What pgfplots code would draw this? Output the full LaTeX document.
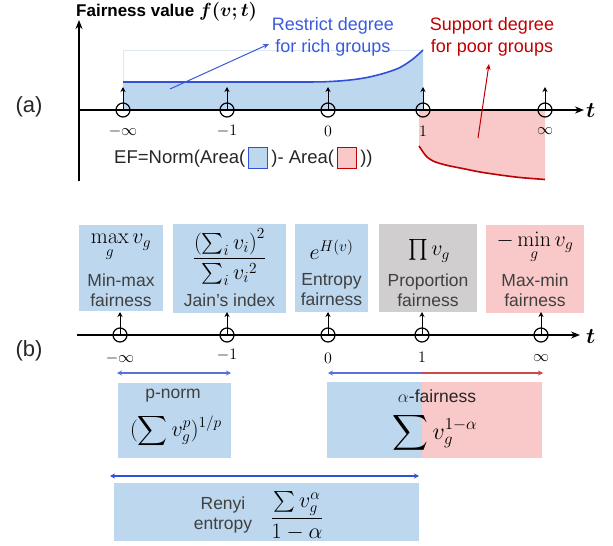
\IfFileExists{fix-cm.sty}{\RequirePackage{fix-cm}}{}
\documentclass[border=0pt]{standalone}
\usepackage{amsmath,bm}
\usepackage[no-math]{fontspec}
\setmainfont{Liberation Sans}
\usepackage{pgfplots}
\pgfplotsset{compat=1.18}
\usetikzlibrary{arrows.meta}
\definecolor{bfill}{HTML}{BDD7EE}
\definecolor{rfill}{HTML}{F9C8C8}
\definecolor{gfill}{HTML}{D0CECE}
\definecolor{bline}{HTML}{3050D8}
\definecolor{btext}{HTML}{3A5BDC}
\definecolor{rline}{HTML}{C00000}
\definecolor{tgray}{HTML}{404040}
\definecolor{barrow}{HTML}{5A70DC}
\definecolor{rarrow}{HTML}{C84A4A}
\definecolor{faint}{HTML}{DCE8F8}
\newcommand{\bx}{\fontsize{17.5}{20}\selectfont}
\newcommand{\mx}{\fontsize{22}{25}\selectfont}
\newcommand{\lb}{\fontsize{16}{18}\selectfont}
\begin{document}
\begin{tikzpicture}
\begin{axis}[at={(0,0)}, anchor=south west, scale only axis, width=613pt, height=546pt,
  xmin=0, xmax=613, ymin=0, ymax=546, y dir=reverse, hide axis, clip=false]
% ---------------- panel (a) ----------------
\addplot[fill=bfill, draw=none] coordinates {(123,110) (123,82) (300,82) (330,81.5) (350,80) (367,77.5) (385,73) (400,67.5) (413,59) (423,50) (423,110)} --cycle;
\draw[faint, line width=0.6pt] (123,82) -- (123,50) -- (423,50);
\addplot[bline, line width=1.6pt, smooth] coordinates {(123,82) (300,82) (330,81.5) (350,80) (367,77.5) (385,73) (400,67.5) (413,59) (423,50)};
\addplot[fill=rfill, draw=none] coordinates {(419,110) (419,146) (423,152) (427,157) (433,161) (440,163.5) (450,166) (465,169) (480,172) (500,175) (520,177.5) (545,179.5) (545,110)} --cycle;
\addplot[rline, line width=1.6pt, smooth] coordinates {(419,146) (423,152) (427,157) (433,161) (440,163.5) (450,166) (465,169) (480,172) (500,175) (520,177.5) (545,179.5)};
% axes
\draw[line width=1.5pt, -{Stealth[length=9pt,width=7pt]}] (79,181) -- (79,20);
\draw[line width=1.5pt, -{Stealth[length=9pt,width=7pt]}] (79,110) -- (584,110);
\node[anchor=west, inner sep=0] at (586,111) {\fontsize{22}{24}\selectfont$\bm{t}$};
\node[anchor=west, inner sep=0] at (76,12) {\fontsize{17}{18}\selectfont\bfseries Fairness value {\fontsize{19}{20}\selectfont$\bm{f(v;t)}$}};
% stems and circles
\pgfplotsinvokeforeach{123,227,328,423,545}{\draw[line width=1pt, -{Stealth[length=5pt,width=5pt]}] (#1,110) -- (#1,87);}
\addplot[only marks, mark=o, mark size=7pt, mark options={line width=1.2pt, black}] coordinates {(123,110) (227,110) (328,110) (423,110) (545,110)};
\node[inner sep=0, font=\lb] at (123,131) {$-\infty$};
\node[inner sep=0, font=\lb] at (227,131) {$-1$};
\node[inner sep=0, font=\lb] at (328,131) {$0$};
\node[inner sep=0, font=\lb] at (423,131) {$1$};
\node[inner sep=0, font=\lb] at (545,131) {$\infty$};
% annotations
\node[align=center, text=btext, inner sep=0, font=\fontsize{18}{21.5}\selectfont] at (333,37) {Restrict degree\\for rich groups};
\node[align=center, text=rline, inner sep=0, font=\fontsize{18}{21.5}\selectfont] at (492,37) {Support degree\\for poor groups};
\draw[btext, line width=1pt, -{Stealth[length=6pt,width=5pt]}] (170,89) -- (269,44);
\draw[rline, line width=1pt, -{Stealth[length=6pt,width=5pt]}] (478,138) -- (489,64);
\node[anchor=west, inner sep=0, text=black!85, font=\fontsize{18.5}{21}\selectfont] at (114,158) {EF=Norm(Area(\,{\setlength\fboxrule{1pt}\setlength\fboxsep{0pt}\fcolorbox{bline}{bfill}{\rule[-5pt]{0pt}{20pt}\hspace{18pt}}}\,)- Area(\,{\setlength\fboxrule{1pt}\setlength\fboxsep{0pt}\fcolorbox{rline}{rfill}{\rule[-5pt]{0pt}{20pt}\hspace{18pt}}}\,))};
\node[inner sep=0, text=black!85, font=\fontsize{22}{24}\selectfont] at (29,107) {(a)};
% ---------------- panel (b) ----------------
\fill[bfill] (79,225) rectangle (163,311);
\fill[bfill] (173,224) rectangle (286,313);
\fill[bfill] (295,224) rectangle (368,312);
\fill[gfill] (379,224) rectangle (477,312);
\fill[rfill] (486,225) rectangle (584,313);
\node[inner sep=0, font=\mx] at (121,248) {$\max\limits_g v_g$};
\node[align=center, text=tgray, inner sep=0, font=\bx] at (121,290) {Min-max\\fairness};
\node[inner sep=0, font=\mx] at (229.5,257) {$\dfrac{\left(\sum_i v_i\right)^2}{\sum_i {v_i}^2}$};
\node[text=tgray, inner sep=0, font=\bx] at (229.5,300) {Jain’s index};
\node[inner sep=0, font=\mx] at (331.5,250) {$e^{H(v)}$};
\node[align=center, text=tgray, inner sep=0, font=\bx] at (331.5,290) {Entropy\\fairness};
\node[inner sep=0, font=\mx] at (429,251) {$\prod v_g$};
\node[align=center, text=tgray, inner sep=0, font=\bx] at (428,290) {Proportion\\fairness};
\node[inner sep=0, font=\mx] at (535,248) {$-\min\limits_g v_g$};
\node[align=center, text=tgray, inner sep=0, font=\bx] at (535,290) {Max-min\\fairness};
\draw[line width=1.5pt, -{Stealth[length=9pt,width=7pt]}] (77,335) -- (580,335);
\node[anchor=west, inner sep=0] at (586,337) {\fontsize{22}{24}\selectfont$\bm{t}$};
\pgfplotsinvokeforeach{120,227,328,422,541}{\draw[line width=1pt, -{Stealth[length=5pt,width=5pt]}] (#1,335) -- (#1,312);}
\addplot[only marks, mark=o, mark size=7pt, mark options={line width=1.2pt, black}] coordinates {(120,335) (227,335) (328,335) (422,335) (541,335)};
\node[inner sep=0, font=\lb] at (120,358) {$-\infty$};
\node[inner sep=0, font=\lb] at (227,355) {$-1$};
\node[inner sep=0, font=\lb] at (328,358) {$0$};
\node[inner sep=0, font=\lb] at (422,357) {$1$};
\node[inner sep=0, font=\lb] at (541,358) {$\infty$};
\node[inner sep=0, text=black!85, font=\fontsize{22}{24}\selectfont] at (29,351) {(b)};
% range arrows
\draw[barrow, line width=1.5pt, {Stealth[length=5pt,width=5pt]}-{Stealth[length=5pt,width=5pt]}] (117,373) -- (231,373);
\draw[barrow, line width=1.5pt, -{Stealth[length=5pt,width=5pt]}] (422,373) -- (328,373);
\draw[rarrow, line width=1.5pt, -{Stealth[length=5pt,width=5pt]}] (422,373) -- (543,373);
\draw[bline, line width=1.5pt, {Stealth[length=5pt,width=5pt]}-{Stealth[length=5pt,width=5pt]}] (110,476) -- (419,476);
% lower boxes
\fill[bfill] (118,383) rectangle (231,458);
\node[text=tgray, inner sep=0, font=\bx] at (173,396) {p-norm};
\node[inner sep=0, font=\mx] at (176,431) {$\displaystyle(\sum v_g^p)^{1/p}$};
\fill[bfill] (327,382) rectangle (422,458);
\fill[rfill] (422,382) rectangle (542,458);
\node[text=black!85, inner sep=0, font=\bx] at (437,396) {$\alpha$-fairness};
\node[inner sep=0, font=\fontsize{24}{27}\selectfont] at (435,433) {$\displaystyle\sum v_g^{1-\alpha}$};
\fill[bfill] (114,483) rectangle (419,541);
\node[align=center, text=tgray, inner sep=0, font=\bx] at (223,515) {Renyi\\entropy};
\node[inner sep=0, font=\mx] at (297,516) {$\dfrac{\sum v_g^{\alpha}}{1-\alpha}$};
\end{axis}
\pgfresetboundingbox
\useasboundingbox (0,0) rectangle (613pt,546pt);
\end{tikzpicture}
\end{document}
